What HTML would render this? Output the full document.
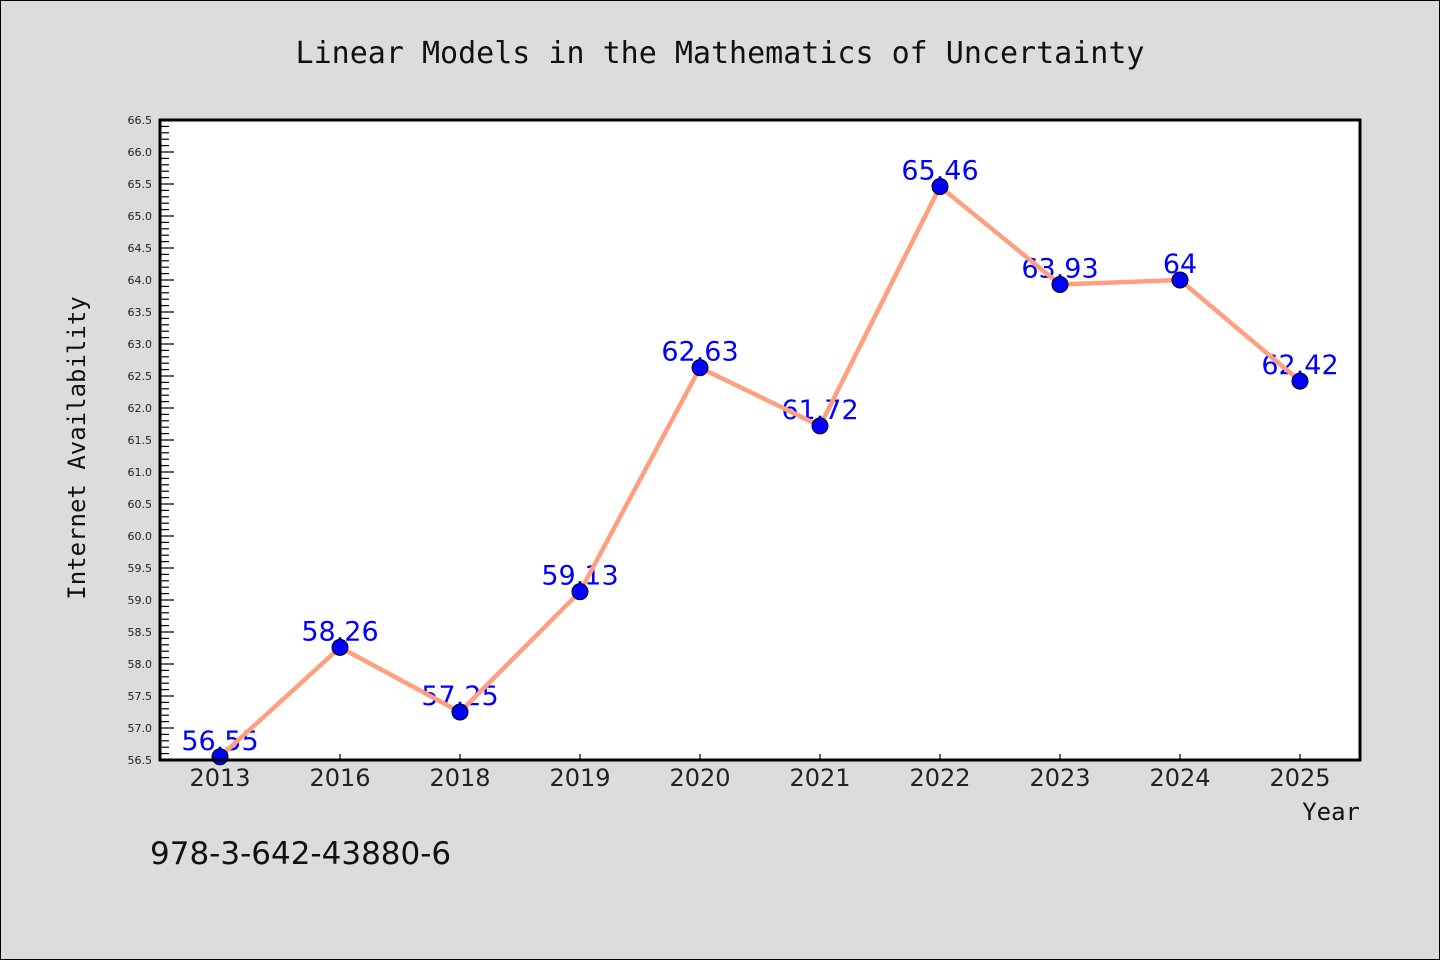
<!DOCTYPE html>
<html><head><meta charset="utf-8"><style>
html,body{margin:0;padding:0;background:#dcdcdc}
svg{display:block}
.mono{font-family:"WenQuanYi Zen Hei Mono","DejaVu Sans Mono","Liberation Mono",monospace}
.sans{font-family:"WenQuanYi Zen Hei","DejaVu Sans","Liberation Sans",sans-serif}
</style></head><body>
<svg id="chart" width="1440" height="960" xmlns="http://www.w3.org/2000/svg">
<rect x="0.5" y="0.5" width="1439" height="959" fill="#dcdcdc" stroke="#000"/>
<text class="mono" x="720" y="63" font-size="30" text-anchor="middle" fill="#111">Linear Models in the Mathematics of Uncertainty</text>
<rect x="160" y="120" width="1200" height="640" fill="#fff"/>
<g id="yaxis"></g>
<g id="xaxis"></g>
<g id="series"></g>
<rect x="160" y="120" width="1200" height="640" fill="none" stroke="#000" stroke-width="3"/>
<text class="mono" font-size="24" fill="#111" text-anchor="middle" transform="translate(85,448) rotate(-90)">Internet Availability</text>
<text class="mono" font-size="24" fill="#111" text-anchor="end" x="1360" y="820">Year</text>
<text class="sans" font-size="31" fill="#111" x="150" y="864">978-3-642-43880-6</text>
</svg>
<script>
const categories = ["2013","2016","2018","2019","2020","2021","2022","2023","2024","2025"];
const values = [56.55,58.26,57.25,59.13,62.63,61.72,65.46,63.93,64,62.42];
const valueLabels = ["56.55","58.26","57.25","59.13","62.63","61.72","65.46","63.93","64","62.42"];
const yMin = 56.5, yMax = 66.5;
const NS="http://www.w3.org/2000/svg";
const L=160,R=1360,T=120,B=760;
const x=i=>L+(i+0.5)*(R-L)/categories.length;
const y=v=>B-(v-yMin)/(yMax-yMin)*(B-T);
function mk(t,a,p){const e=document.createElementNS(NS,t);for(const k in a)e.setAttribute(k,a[k]);p.appendChild(e);return e;}
const ya=document.getElementById('yaxis');
for(let k=0;k<=Math.round((yMax-yMin)*10);k++){
  const v=yMin+k/10, yy=y(v), major=k%5===0;
  const t=mk('line',{x1:L,x2:L+(major?14:9),y1:yy,y2:yy,stroke:'#000','stroke-width':1.2},ya);
  
  
  if(major){
    const tx=mk('text',{x:L-8,y:yy+4,'font-size':11,'text-anchor':'end',fill:'#222','font-family':'DejaVu Sans, sans-serif'},ya);
    
    
    tx.textContent=v.toFixed(1);
  }
}
const xa=document.getElementById('xaxis');
categories.forEach((c,i)=>{
  const t=mk('line',{x1:x(i),x2:x(i),y1:B,y2:B-6,stroke:'#000','stroke-width':1.2},xa);
  
  
  const tx=mk('text',{x:x(i),y:B+26,'font-size':24,'text-anchor':'middle',fill:'#222',class:'sans'},xa);
  
  
  tx.textContent=c;
});
const s=document.getElementById('series');
values.forEach((v,i)=>{
  const tx=mk('text',{x:x(i),y:y(v)-7,'font-size':27,'text-anchor':'middle',fill:'#0000ff',class:'sans'},s);
  
  
  tx.textContent=valueLabels[i];
});
const pl=mk('polyline',{points:values.map((v,i)=>x(i)+','+y(v)).join(' '),fill:'none',stroke:'#ff9f7f','stroke-width':4.5,'stroke-linejoin':'round'},s);


values.forEach((v,i)=>{
  const c=mk('circle',{cx:x(i),cy:y(v),r:8,fill:'#0000ff',stroke:'#000','stroke-width':1},s);
  
  
});
</script>
</body></html>
